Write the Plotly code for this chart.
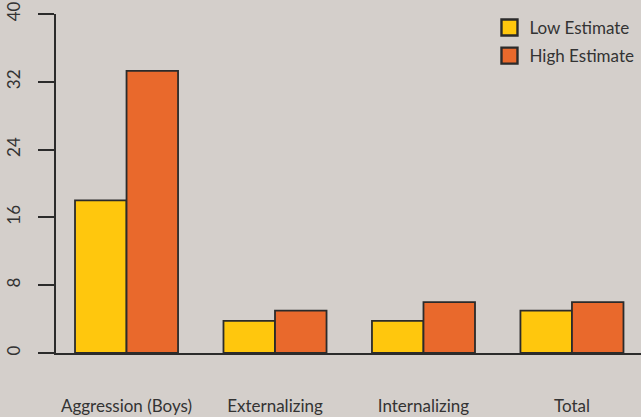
import plotly.graph_objects as go

categories = ["Aggression (Boys)", "Externalizing", "Internalizing", "Total"]
low_estimate = [18, 3.8, 3.8, 5]
high_estimate = [33.3, 5, 6, 6]
y_ticks = [0, 8, 16, 24, 32, 40]

BG = "#d4cfcb"
YELLOW = "#ffc70d"
ORANGE = "#e9692c"
LINE = "#2b2b2b"
FONT = "Lato"

fig = go.Figure()
fig.add_trace(go.Bar(x=categories, y=low_estimate, name="Low Estimate",
                     marker=dict(color=YELLOW, line=dict(color=LINE, width=1.8)),
                     showlegend=False))
fig.add_trace(go.Bar(x=categories, y=high_estimate, name="High Estimate",
                     marker=dict(color=ORANGE, line=dict(color=LINE, width=1.8)),
                     showlegend=False))
# legend entries with larger swatches
fig.add_trace(go.Scatter(x=[None], y=[None], mode="markers", name="Low Estimate",
                         legendgroup="a",
                         marker=dict(symbol="square", size=16, color=YELLOW,
                                     line=dict(color=LINE, width=2.4))))
fig.add_trace(go.Scatter(x=[None], y=[None], mode="markers", name="High Estimate",
                         legendgroup="b",
                         marker=dict(symbol="square", size=16, color=ORANGE,
                                     line=dict(color=LINE, width=2.4))))

fig.update_layout(
    width=641, height=417,
    margin=dict(l=56, r=0, t=14, b=64, autoexpand=False),
    paper_bgcolor=BG, plot_bgcolor=BG,
    font=dict(family=FONT, size=17, color="#333333"),
    barmode="group", bargap=0.306, bargroupgap=0,
    legend=dict(x=0.741, xanchor="left", y=1.012, yanchor="top",
                bgcolor="rgba(0,0,0,0)", tracegroupgap=3,
                font=dict(family=FONT, size=17, color="#333333")),
)
fig.update_xaxes(range=[-0.475, 3.465], showline=True, linecolor=LINE, linewidth=1.8,
                 ticks="", showgrid=False, zeroline=False, ticklabelstandoff=37,
                 tickfont=dict(size=17), automargin=False)
fig.update_yaxes(range=[0, 40], tickvals=y_ticks, showline=True, linecolor=LINE,
                 linewidth=1.8, ticks="outside", ticklen=16, tickwidth=1.8,
                 tickcolor=LINE, tickangle=-90, showgrid=False, zeroline=False,
                 ticklabelstandoff=11, tickfont=dict(size=17), automargin=False)

fig.write_html(
    "out.html",
    config={"displayModeBar": False},
    post_script="document.body.style.margin='0';document.body.style.overflow='hidden';"
    "document.body.style.background='" + BG + "';",
)
